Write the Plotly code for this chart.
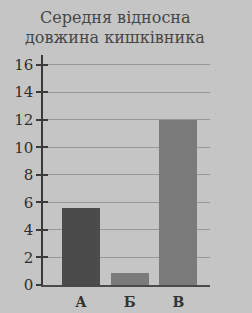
import plotly.graph_objects as go

categories = ["А", "Б", "В"]
values = [5.6, 0.9, 12.0]
bar_colors = ["#4b4b4b", "#7b7b7b", "#7a7a7a"]
y_ticks = [0, 2, 4, 6, 8, 10, 12, 14, 16]
title_lines = ["Середня відносна", "довжина кишківника"]

xpos = list(range(len(categories)))

fig = go.Figure()
fig.add_trace(go.Bar(x=xpos, y=values, width=0.78, marker=dict(color=bar_colors, line=dict(width=0)),
                     showlegend=False, hoverinfo="skip"))
fig.add_trace(go.Scatter(x=[xpos[0]], y=[0], yaxis="y2", mode="markers",
                         marker=dict(opacity=0), showlegend=False, hoverinfo="skip"))

font_family = "DejaVu Serif"
fig.update_layout(
    width=252, height=313,
    margin=dict(l=43, r=42, t=55, b=28),
    paper_bgcolor="#c5c5c5",
    plot_bgcolor="#c5c5c5",
    bargap=0,
    xaxis=dict(range=[-0.78, 2.65], tickvals=xpos, ticktext=categories, automargin=False,
               showgrid=False, zeroline=False, showline=True, linecolor="#4a4a4a", linewidth=1.5,
               ticks="", ticklabelstandoff=3,
               tickfont=dict(family=font_family, size=14, color="#333333", weight="bold")),
    yaxis=dict(range=[0, 16.7], tickvals=y_ticks, showgrid=True, gridcolor="#979797", gridwidth=1,
               zeroline=False, showline=True, linecolor="#3a3a3a", linewidth=1.5, automargin=False,
               ticks="outside", ticklen=5, tickcolor="#3a3a3a", tickwidth=1.5,
               tickfont=dict(family=font_family, size=15, color="#2e2e2e")),
    yaxis2=dict(range=[0, 16.7], tickvals=y_ticks, overlaying="y", side="left", automargin=False,
                showgrid=False, zeroline=False, showline=False, showticklabels=False,
                ticks="inside", ticklen=5, tickcolor="#3a3a3a", tickwidth=1.5),
    annotations=[
        dict(text=title_lines[0], x=115, y=17, xref="paper", yref="paper", showarrow=False,
             font=dict(family=font_family, size=16, color="#474747")),
        dict(text=title_lines[1], x=115, y=37, xref="paper", yref="paper", showarrow=False,
             font=dict(family=font_family, size=16, color="#474747")),
    ],
)
pw = 252 - 43 - 42
ph = 313 - 55 - 28
for a in fig.layout.annotations:
    px, py = a.x, a.y
    a.x = (px - 43) / pw
    a.y = (313 - 28 - py) / ph
    a.yanchor = "middle"
    a.xanchor = "center"

fig.write_html("out.html")
